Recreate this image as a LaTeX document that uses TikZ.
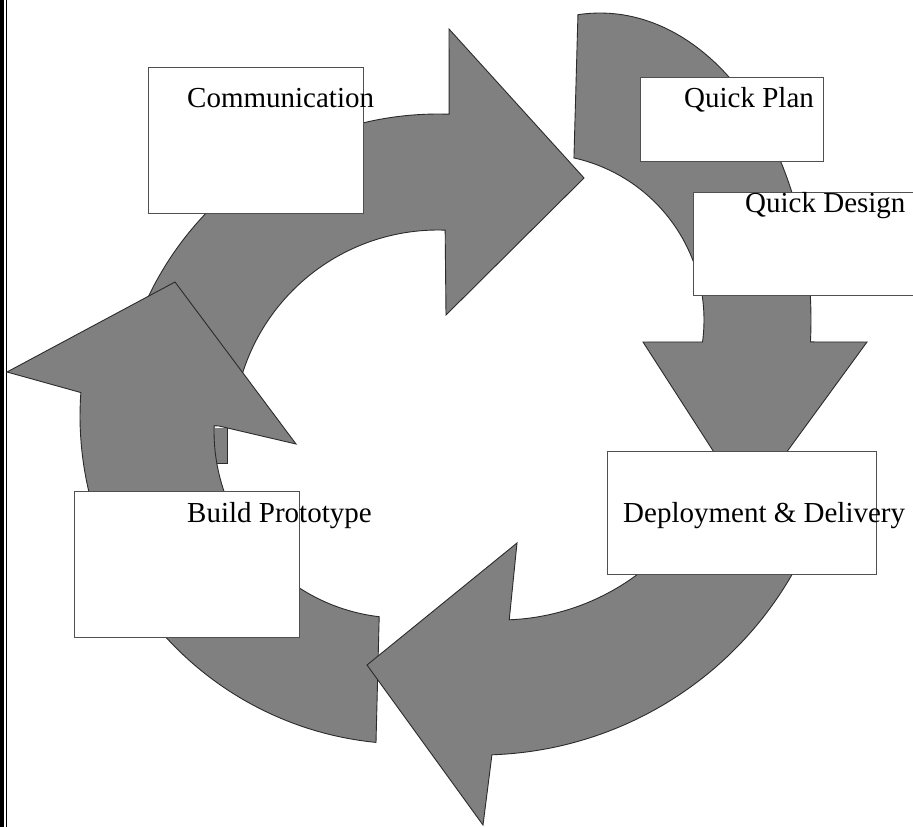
\documentclass[tikz,border=0pt]{standalone}
\usepackage{fontspec}
\setmainfont{Liberation Serif}
\definecolor{arrowgray}{HTML}{808080}
\definecolor{edgegray}{HTML}{2B2B2B}
\definecolor{boxline}{HTML}{505050}
\begin{document}
\begin{tikzpicture}[x=1pt,y=-1pt,
  arrowsty/.style={fill=arrowgray, draw=edgegray, line width=0.9pt, line join=miter},
  boxsty/.style={draw=boxline, fill=white, line width=0.9pt, inner sep=0pt, anchor=north west},
  lbl/.style={inner sep=0pt, anchor=base west, font=\fontsize{29}{34}\selectfont}]
\useasboundingbox (0,0) rectangle (913,827);
\clip (0,0) rectangle (913,827);
\fill[white] (0,0) rectangle (913,827);
% left page border
\fill[black] (0,0) rectangle (3.7,827);
\fill[black] (5.7,0) rectangle (7.3,827);
% arrow 1 (Communication -> Quick Plan)
\path[arrowsty] plot[domain=-170:-88, samples=60, variable=\t] ({438+321*cos(\t)},{435+321*sin(\t)})
  -- (449,29) -- (584,178) -- (446,315)
  -- plot[domain=-88:-170, samples=60, variable=\t] ({438+205*cos(\t)},{435+205*sin(\t)}) -- cycle;
% arrow 2 (Quick Plan -> Deployment)
\path[arrowsty] plot[domain=-96:4.1, samples=60, variable=\t] ({600+211*cos(\t)},{320+307*sin(\t)})
  -- (867,342) -- (748,505) -- (643,342)
  -- plot[domain=7.6:-77.5, samples=60, variable=\t] ({538+166*cos(\t)},{320+166*sin(\t)}) -- cycle;
% small notch of arrow 4
\fill[arrowgray] (214,428) rectangle (227,463);
\draw[edgegray, line width=0.9pt] (227,428) -- (227,463) -- (215,463);
% arrow 4 (Build Prototype -> Communication)
\path[arrowsty] plot[domain=95.6:184.1, samples=60, variable=\t] ({408+328*cos(\t)},{416+328*sin(\t)})
  -- (7,372) -- (175,282) -- (296,444) -- (219,426)
  -- plot[domain=181.6:96.7, samples=60, variable=\t] ({401+187*cos(\t)},{431+187*sin(\t)}) -- cycle;
% arrow 3 (Deployment -> Build Prototype)
\path[arrowsty] plot[domain=22:88.1, samples=60, variable=\t] ({480+360*cos(\t)},{395+360*sin(\t)})
  -- (483,825) -- (367,665) -- (517,543)
  -- plot[domain=87.7:22, samples=60, variable=\t] ({500+230*cos(\t)},{390+230*sin(\t)}) -- cycle;
% boxes
\node[boxsty, minimum width=215pt, minimum height=146pt] (comm) at (148,67) {};
\node[boxsty, minimum width=183pt, minimum height=84pt] (qplan) at (640,77) {};
\node[boxsty, minimum width=247pt, minimum height=103pt] (qdesign) at (693,192) {};
\node[boxsty, minimum width=225pt, minimum height=146pt] (build) at (74,491) {};
\node[boxsty, minimum width=269pt, minimum height=123pt] (deploy) at (607,451) {};
% labels
\node[lbl] (commt) at (187,107) {Communication};
\node[lbl] (qplant) at (684,107) {Quick Plan};
\node[lbl] (qdesignt) at (745,212) {Quick Design};
\node[lbl] (buildt) at (187,522) {Build Prototype};
\node[lbl] (deployt) at (623,522) {Deployment \& Delivery};
\end{tikzpicture}
\end{document}
